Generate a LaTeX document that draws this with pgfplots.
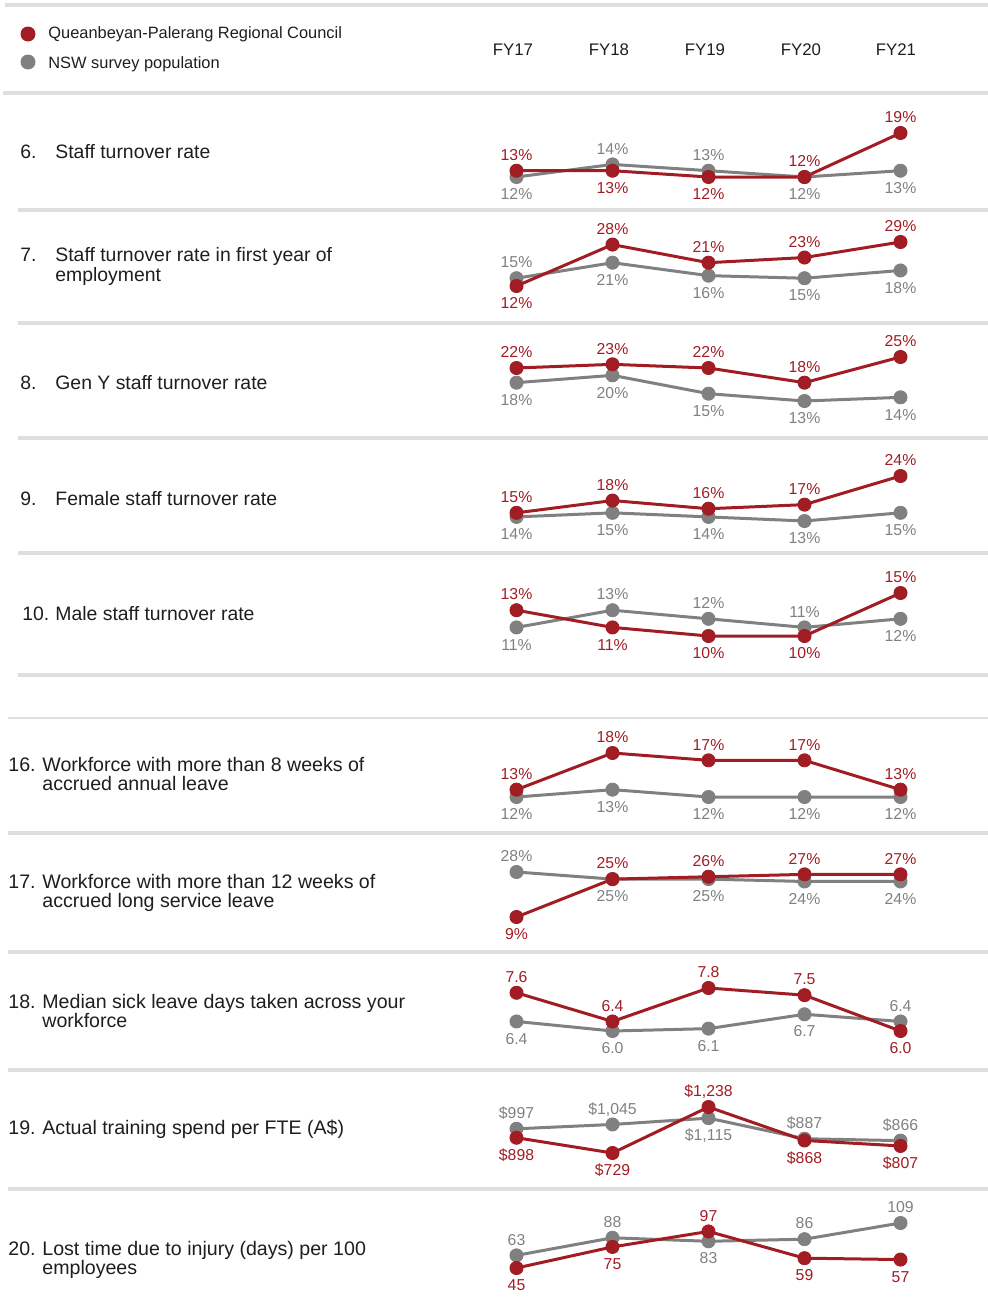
\documentclass[border=0pt]{standalone}
\usepackage{fontspec}
\setmainfont{Liberation Sans}
\usepackage{pgfplots}
\pgfplotsset{compat=1.18}

\definecolor{qred}{HTML}{A21C24}
\definecolor{qgrey}{HTML}{808080}
\definecolor{rule}{HTML}{DEDEDE}
\definecolor{ink}{HTML}{1E1E1E}

% value labels: the "dy" column gives the baseline offset (pt) of each label
\pgfplotsset{
  rowax/.style={
    scale only axis, width=192pt, xmin=0, xmax=4,
    hide axis, clip=false, anchor=south west,
    point meta=explicit symbolic,
    visualization depends on={\thisrow{dy}\as\ldy},
    every node near coord/.append style={anchor=base, inner sep=0pt,
      yshift=\ldy pt, font=\fontsize{7.9}{9}\selectfont},
  },
  pct/.style={nodes near coords={\pgfplotspointmeta\%}},
  money/.style={nodes near coords={\$\pgfplotspointmeta}},
  plain/.style={nodes near coords={\pgfplotspointmeta}},
  council/.style={color=qred, line width=1.5pt, line join=round,
    mark=*, mark size=3.3pt, mark options={fill=qred, line width=0.4pt}},
  nsw/.style={color=qgrey, line width=1.5pt, line join=round,
    mark=*, mark size=3.3pt, mark options={fill=qgrey, line width=0.4pt}},
}

\newcommand{\lbl}{\fontsize{9.7}{11}\selectfont}
\newcommand{\lblb}{\fontsize{9.8}{11}\selectfont}

\begin{document}
\begin{tikzpicture}
\useasboundingbox (0,0) rectangle (494pt,-650.5pt);

% horizontal rules
\draw[rule, line width=2pt] (2.5pt,-2.5pt) -- (494pt,-2.5pt);
\draw[rule, line width=2pt] (1.5pt,-46.5pt) -- (494pt,-46.5pt);
\foreach \yy in {105,161.5,219,276.5,337.5}
  \draw[rule, line width=1.75pt] (9pt,-\yy pt) -- (494pt,-\yy pt);
\draw[rule, line width=1pt] (4pt,-359pt) -- (494pt,-359pt);
\foreach \yy in {416.5,476,535,594.5}
  \draw[rule, line width=1.75pt] (4pt,-\yy pt) -- (494pt,-\yy pt);

% legend
\fill[qred] (14pt,-17pt) circle (3.75pt);
\fill[qgrey] (14pt,-31pt) circle (3.75pt);
\node[anchor=base west, inner sep=0pt, text=ink, font=\fontsize{8.2}{10}\selectfont]
  at (24pt,-19.5pt) {Queanbeyan-Palerang Regional Council};
\node[anchor=base west, inner sep=0pt, text=ink, font=\fontsize{8.2}{10}\selectfont]
  at (24pt,-34pt) {NSW survey population};

% year headers
\foreach \xx/\yr in {256.5/FY17,304.5/FY18,352.5/FY19,400.5/FY20,448/FY21}
  \node[anchor=base, inner sep=0pt, text=ink, font=\fontsize{8.4}{10}\selectfont]
    at (\xx pt,-27.5pt) {\yr};

% row titles
\begin{scope}[every node/.style={anchor=base west, inner sep=0pt, text=ink, font=\lbl}]
\node at (10pt,-79pt) {6.};
\node at (27.5pt,-79pt) {Staff turnover rate};
\node at (10pt,-130.5pt) {7.};
\node at (27.5pt,-130.5pt) {Staff turnover rate in first year of};
\node at (27.5pt,-140.5pt) {employment};
\node at (10pt,-194.5pt) {8.};
\node at (27.5pt,-194.5pt) {Gen Y staff turnover rate};
\node at (10pt,-252.5pt) {9.};
\node at (27.5pt,-252.5pt) {Female staff turnover rate};
\node at (11pt,-310pt) {10.};
\node at (27.5pt,-310pt) {Male staff turnover rate};
\end{scope}
\begin{scope}[every node/.style={anchor=base west, inner sep=0pt, text=ink, font=\lblb}]
\node at (4pt,-385.5pt) {16.};
\node at (21pt,-385.5pt) {Workforce with more than 8 weeks of};
\node at (21pt,-395pt) {accrued annual leave};
\node at (4pt,-444pt) {17.};
\node at (21pt,-444pt) {Workforce with more than 12 weeks of};
\node at (21pt,-453.5pt) {accrued long service leave};
\node at (4pt,-504pt) {18.};
\node at (21pt,-504pt) {Median sick leave days taken across your};
\node at (21pt,-513.5pt) {workforce};
\node at (4pt,-567pt) {19.};
\node at (21pt,-567pt) {Actual training spend per FTE (A\$)};
\node at (4pt,-627.5pt) {20.};
\node at (21pt,-627.5pt) {Lost time due to injury (days) per 100};
\node at (21pt,-637pt) {employees};
\end{scope}

% 6. Staff turnover rate
\begin{axis}[rowax, pct, ymin=12, ymax=19, height=22pt, at={(258.25pt,-88.5pt)}]
\addplot[nsw] table[meta=lab] {
x y lab dy
0 12 12 -11.35
1 14 14 5.15
2 13 13 5.15
3 12 12 -11.35
4 13 13 -11.35
};
\addplot[council] table[meta=lab] {
x y lab dy
0 13 13 5.15
1 13 13 -11.35
2 12 12 -11.35
3 12 12 5.15
4 19 19 5.15
};
\end{axis}

% 7. Staff turnover rate in first year of employment
\begin{axis}[rowax, pct, ymin=12, ymax=29, height=22pt, at={(258.25pt,-143pt)}]
\addplot[nsw] table[meta=lab] {
x y lab dy
0 15 15 5.15
1 21 21 -11.35
2 16 16 -11.35
3 15 15 -11.35
4 18 18 -11.35
};
\addplot[council] table[meta=lab] {
x y lab dy
0 12 12 -11.35
1 28 28 5.15
2 21 21 5.15
3 23 23 5.15
4 29 29 5.15
};
\end{axis}

% 8. Gen Y staff turnover rate
\begin{axis}[rowax, pct, ymin=13, ymax=25, height=22pt, at={(258.25pt,-200.5pt)}]
\addplot[nsw] table[meta=lab] {
x y lab dy
0 18 18 -11.35
1 20 20 -11.35
2 15 15 -11.35
3 13 13 -11.35
4 14 14 -11.35
};
\addplot[council] table[meta=lab] {
x y lab dy
0 22 22 5.15
1 23 23 5.15
2 22 22 5.15
3 18 18 5.15
4 25 25 5.15
};
\end{axis}

% 9. Female staff turnover rate
\begin{axis}[rowax, pct, ymin=13, ymax=24, height=22.5pt, at={(258.25pt,-260.5pt)}]
\addplot[nsw] table[meta=lab] {
x y lab dy
0 14 14 -11.35
1 15 15 -11.35
2 14 14 -11.35
3 13 13 -11.35
4 15 15 -11.35
};
\addplot[council] table[meta=lab] {
x y lab dy
0 15 15 5.15
1 18 18 5.15
2 16 16 5.15
3 17 17 5.15
4 24 24 5.15
};
\end{axis}

% 10. Male staff turnover rate
\begin{axis}[rowax, pct, ymin=10, ymax=15, height=21.5pt, at={(258.25pt,-318pt)}]
\addplot[nsw] table[meta=lab] {
x y lab dy
0 11 11 -11.35
1 13 13 5.15
2 12 12 5.15
3 11 11 5.15
4 12 12 -11.35
};
\addplot[council] table[meta=lab] {
x y lab dy
0 13 13 5.15
1 11 11 -11.35
2 10 10 -11.35
3 10 10 -11.35
4 15 15 5.15
};
\end{axis}

% 16. Workforce with more than 8 weeks of accrued annual leave
\begin{axis}[rowax, pct, ymin=12, ymax=18, height=22pt, at={(258.25pt,-398.5pt)}]
\addplot[nsw] table[meta=lab] {
x y lab dy
0 12 12 -11.35
1 13 13 -11.35
2 12 12 -11.35
3 12 12 -11.35
4 12 12 -11.35
};
\addplot[council] table[meta=lab] {
x y lab dy
0 13 13 5.15
1 18 18 5.15
2 17 17 5.15
3 17 17 5.15
4 13 13 5.15
};
\end{axis}

% 17. Workforce with more than 12 weeks of accrued long service leave
\begin{axis}[rowax, pct, ymin=9, ymax=28, height=22.5pt, at={(258.25pt,-458.5pt)}]
\addplot[nsw] table[meta=lab] {
x y lab dy
0 28 28 5.15
1 25 25 -11.35
2 25 25 -11.35
3 24 24 -11.35
4 24 24 -11.35
};
\addplot[council] table[meta=lab] {
x y lab dy
0 9 9 -11.35
1 25 25 5.15
2 26 26 5.15
3 27 27 5.15
4 27 27 5.15
};
\end{axis}

% 18. Median sick leave days
\begin{axis}[rowax, plain, ymin=6.0, ymax=7.8, height=21.5pt, at={(258.25pt,-515.5pt)}]
\addplot[nsw] table[meta=lab] {
x y lab dy
0 6.4 6.4 -11.35
1 6.0 6.0 -11.35
2 6.1 6.1 -11.35
3 6.7 6.7 -11.35
4 6.4 6.4 5.15
};
\addplot[council] table[meta=lab] {
x y lab dy
0 7.6 7.6 5.15
1 6.4 6.4 5.15
2 7.8 7.8 5.15
3 7.5 7.5 5.15
4 6.0 6.0 -11.35
};
\end{axis}

% 19. Actual training spend per FTE
\begin{axis}[rowax, money, ymin=729, ymax=1238, height=23pt, at={(258.25pt,-576.5pt)}]
\addplot[nsw] table[meta=lab] {
x y lab dy
0 997 997 5.15
1 1045 1,045 5.15
2 1115 1,115 -11.35
3 887 887 5.15
4 866 866 5.15
};
\addplot[council] table[meta=lab] {
x y lab dy
0 898 898 -11.35
1 729 729 -11.35
2 1238 1,238 5.15
3 868 868 -11.35
4 807 807 -11.35
};
\end{axis}

% 20. Lost time due to injury
\begin{axis}[rowax, plain, ymin=45, ymax=109, height=22.5pt, at={(258.25pt,-634pt)}]
\addplot[nsw] table[meta=lab] {
x y lab dy
0 63 63 5.15
1 88 88 5.15
2 83 83 -11.35
3 86 86 5.15
4 109 109 5.15
};
\addplot[council] table[meta=lab] {
x y lab dy
0 45 45 -11.35
1 75 75 -11.35
2 97 97 5.15
3 59 59 -11.35
4 57 57 -11.35
};
\end{axis}

\end{tikzpicture}
\end{document}
